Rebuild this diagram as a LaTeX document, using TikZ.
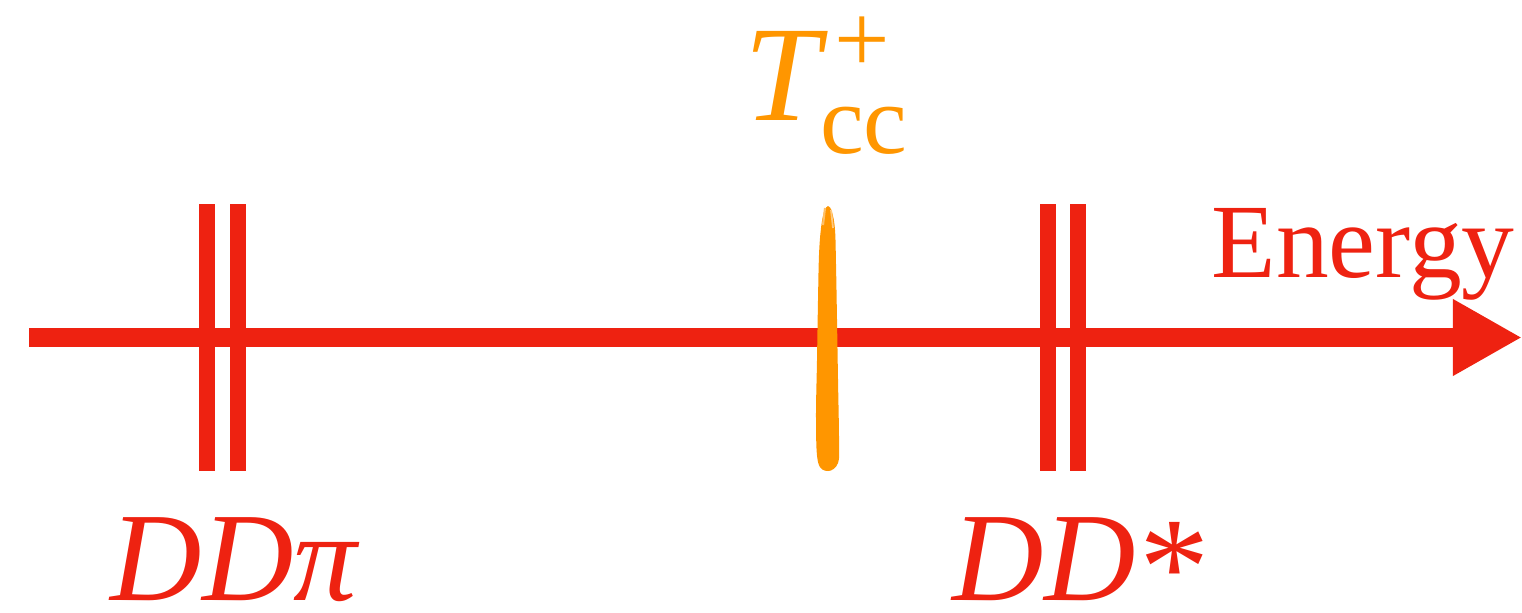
\documentclass[tikz,border=0pt]{standalone}
\usepackage{fontspec}
\setmainfont{Liberation Serif}
\usepackage{tikz}
\usetikzlibrary{
  arrows.meta,
  positioning
}
\definecolor{axisred}{RGB}{238,34,17}
\definecolor{tccorange}{RGB}{255,150,0}

\begin{document}
\begin{tikzpicture}[
  x=0.01cm, y=-0.01cm,
  axis/.style={line width=0.184cm, axisred, -{Triangle[length=0.69cm, width=0.716cm]}},
  thr/.style={line width=0.16cm, axisred},
  lbl/.style={anchor=base west, inner sep=0pt, text=axisred, font=\fontsize{36}{38}\selectfont\itshape}
]
  \useasboundingbox (0,0) rectangle (1522,612);

  \coordinate (start) at (29,337.5);
  \coordinate (end) at (1522,337.5);
  \draw[axis] (start) -- (end);

  % Thresholds
  \draw[thr] (207.3,204) -- (207.3,470.5);
  \draw[thr] (238.2,204) -- (238.2,470.5);
  \draw[thr] (1048,204) -- (1048,470.5);
  \draw[thr] (1078,204) -- (1078,470.5);

  % Resonance
  \fill[tccorange] plot[smooth cycle, tension=0.6] coordinates {
    (828,471) (818,462) (816,420) (817,360) (818,300) (819,255) (821,228)
    (824,212) (828,206) (832,212) (835,230) (836,265) (837,320) (838,380)
    (839,440) (838,463)};
  \draw[tccorange!60, line width=0.6pt] (823,225) -- (825,208);
  \draw[tccorange!50, line width=0.5pt] (833,228) -- (831,210);

  \node[anchor=base west, inner sep=0pt, text=tccorange] (tcc) at (744,120)
    {\fontsize{38.7}{40}\selectfont\textit{T}\fontsize{28}{30}\selectfont\rlap{\kern1.6pt\raisebox{13.4pt}{+}}\kern-2.4pt\raisebox{-9.4pt}{cc}};

  \node[anchor=base west, inner sep=0pt, text=axisred, font=\fontsize{30}{32}\selectfont] (energy) at (1211,277) {Energy};

  \node[lbl] (ddpi) at (110,600) {DDπ};
  \node[lbl] (ddstar) at (952,600) {DD\kern1pt{\upshape\fontsize{40}{42}\selectfont\raisebox{-4pt}{*}}};
\end{tikzpicture}
\end{document}
